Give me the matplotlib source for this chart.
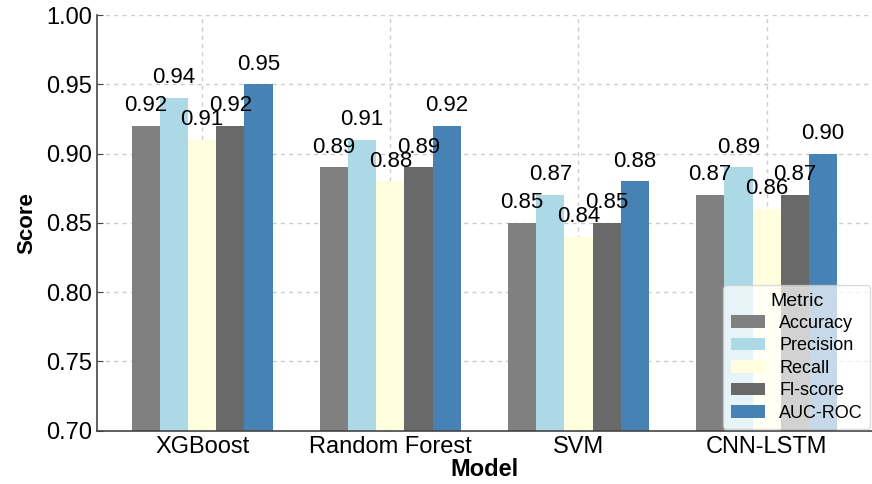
import matplotlib.pyplot as plt
import numpy as np

plt.rcParams['font.family'] = ['Liberation Sans', 'DejaVu Sans']

models = ['XGBoost', 'Random Forest', 'SVM', 'CNN-LSTM']
metrics = ['Accuracy', 'Precision', 'Recall', 'Fl-score', 'AUC-ROC']
accuracy = [0.92, 0.89, 0.85, 0.87]
precision = [0.94, 0.91, 0.87, 0.89]
recall = [0.91, 0.88, 0.84, 0.86]
f1 = [0.92, 0.89, 0.85, 0.87]
auc = [0.95, 0.92, 0.88, 0.90]
colors = ['#808080', '#ADD8E6', '#FFFFE0', '#696969', '#4682B4']

series = [accuracy, precision, recall, f1, auc]

fig = plt.figure(figsize=(8.72, 4.84), dpi=100)
ax = fig.add_axes([0.111, 0.11, 0.889, 0.859])

x = np.arange(len(models))
w = 0.15
for i, (vals, name, c) in enumerate(zip(series, metrics, colors)):
    pos = x + (i - 2) * w
    ax.bar(pos, vals, w, color=c, label=name, zorder=2)
    for p, v in zip(pos, vals):
        ax.text(p, v + 0.007, f'{v:.2f}', ha='center', va='bottom', fontsize=16, zorder=3)

ax.set_ylim(0.70, 1.00)
ax.set_xlim(-0.56, 3.56)
yt = np.arange(0.70, 1.001, 0.05)
ax.set_xticks(x)
ax.set_xticklabels(models, fontsize=17)
ax.set_yticks(yt)
ax.set_yticklabels([f'{t:.2f}' for t in yt], fontsize=17)
ax.tick_params(direction='in', length=4, color='#444444')
ax.set_xlabel('Model', fontsize=17, fontweight='bold', labelpad=0)
ax.set_ylabel('Score', fontsize=16, fontweight='bold', labelpad=6)
ax.grid(True, linestyle=(0, (3, 3)), color='#cccccc', linewidth=1, zorder=0)
ax.set_axisbelow(True)
for s in ['top', 'right']:
    ax.spines[s].set_visible(False)
for s in ['left', 'bottom']:
    ax.spines[s].set_color('#444444')
    ax.spines[s].set_linewidth(1.2)

ax.legend(title='Metric', loc='lower right', fontsize=13, title_fontsize=14,
          framealpha=0.7, handlelength=1.9, borderaxespad=0.1, labelspacing=0.3,
          borderpad=0.4)

fig.savefig('out.png', dpi=100)
